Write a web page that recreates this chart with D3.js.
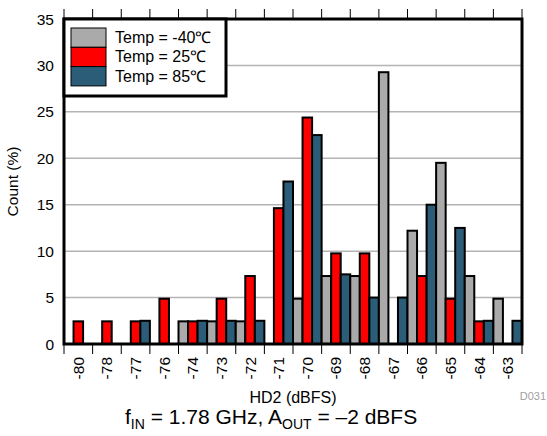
<!DOCTYPE html>
<html>
<head>
<meta charset="utf-8">
<script src="https://cdn.jsdelivr.net/npm/d3@7"></script>
<style>
  body { margin: 0; background: #fff; }
  text { font-family: "Liberation Sans", Arial, sans-serif; fill: #000; }
</style>
</head>
<body>
<div class="chart_area"></div>
<script>
// HD2 bins (dBFS)
var categories = ["-80","-78","-77","-76","-74","-73","-72","-71","-70","-69","-68","-67","-66","-65","-64","-63"];
var series_names = ["Temp = -40\u2103", "Temp = 25\u2103", "Temp = 85\u2103"];
var temp_m40 = [0, 0, 0, 0, 2.44, 2.44, 2.44, 0, 4.88, 7.32, 7.32, 29.27, 12.2, 19.51, 7.32, 4.88];
var temp_25  = [2.44, 2.44, 2.44, 4.88, 2.44, 4.88, 7.32, 14.63, 24.39, 9.76, 9.76, 0, 7.32, 4.88, 2.44, 0];
var temp_85  = [0, 0, 2.5, 0, 2.5, 2.5, 2.5, 17.5, 22.5, 7.5, 5, 5, 15, 12.5, 2.5, 2.5];
var y_ticks = [0, 5, 10, 15, 20, 25, 30, 35];
var colors = ["#aaaaaa", "#ff0000", "#2c5d78"];

var margin = { top: 19, right: 25, bottom: 92, left: 64 },
    width = 547 - margin.left - margin.right,
    height = 436 - margin.top - margin.bottom;

var svg = d3.select(".chart_area")
    .append("svg")
    .attr("width", 547)
    .attr("height", 436)
    .append("g")
    .attr("transform", "translate(" + margin.left + "," + margin.top + ")");

var x = d3.scaleBand().domain(categories).range([0, width]).padding(0);
var xs = d3.scaleBand().domain([0, 1, 2]).range([0, x.bandwidth()]).padding(0);
var y = d3.scaleLinear().domain([0, 35]).range([height, 0]);

// gridlines
svg.append("g")
    .selectAll("line")
    .data(y_ticks.filter(function(d){ return d > 0 && d < 35; }))
    .enter()
    .append("line")
    .attr("x1", 0).attr("x2", width)
    .attr("y1", function(d){ return y(d); })
    .attr("y2", function(d){ return y(d); })
    .style("stroke", "#b4b4b4")
    .style("stroke-width", 1.5);

// bars
var rows = categories.map(function(c, i){ return { cat: c, vals: [temp_m40[i], temp_25[i], temp_85[i]] }; });

svg.append("g")
    .selectAll("g")
    .data(rows)
    .enter()
    .append("g")
    .attr("transform", function(d){ return "translate(" + x(d.cat) + ",0)"; })
    .selectAll("rect")
    .data(function(d){ return d.vals.map(function(v, k){ return { k: k, v: v }; }); })
    .enter()
    .filter(function(d){ return d.v > 0; })
    .append("rect")
    .attr("x", function(d){ return xs(d.k); })
    .attr("width", xs.bandwidth())
    .attr("y", function(d){ return y(d.v); })
    .attr("height", function(d){ return y(0) - y(d.v); })
    .attr("fill", function(d){ return colors[d.k]; })
    .style("stroke", "#000")
    .style("stroke-width", 2);

// frame
svg.append("rect")
    .attr("x", 0).attr("y", 0)
    .attr("width", width).attr("height", height)
    .attr("fill", "none")
    .style("stroke", "#000")
    .style("stroke-width", 3);

// category boundary ticks, top and bottom
var bounds = categories.map(function(c){ return x(c); }).concat([width]);
svg.append("g").selectAll("line").data(bounds).enter().append("line")
    .attr("x1", function(d){ return d; }).attr("x2", function(d){ return d; })
    .attr("y1", -10).attr("y2", 0)
    .style("stroke", "#000").style("stroke-width", 1);
svg.append("g").selectAll("line").data(bounds).enter().append("line")
    .attr("x1", function(d){ return d; }).attr("x2", function(d){ return d; })
    .attr("y1", height).attr("y2", height + 10)
    .style("stroke", "#000").style("stroke-width", 1);

// x tick labels
svg.append("g").selectAll("text").data(categories).enter().append("text")
    .attr("transform", function(d){ return "translate(" + (x(d) + x.bandwidth() / 2 + 5.5) + "," + (height + 13) + ") rotate(-90)"; })
    .attr("text-anchor", "end")
    .style("font-size", "15.5px")
    .text(function(d){ return d; });

// y tick labels
svg.append("g").selectAll("text").data(y_ticks).enter().append("text")
    .attr("x", -10)
    .attr("y", function(d){ return y(d) + 5.5; })
    .attr("text-anchor", "end")
    .style("font-size", "15.5px")
    .text(function(d){ return d; });

// axis titles
svg.append("text")
    .attr("transform", "translate(-46," + (height / 2) + ") rotate(-90)")
    .attr("text-anchor", "middle")
    .style("font-size", "15.5px")
    .text("Count (%)");

svg.append("text")
    .attr("x", width / 2)
    .attr("y", 384)
    .attr("text-anchor", "middle")
    .style("font-size", "16px")
    .text("HD2 (dBFS)");

svg.append("text")
    .attr("x", width + 24)
    .attr("y", 381)
    .attr("text-anchor", "end")
    .style("font-size", "11px")
    .style("fill", "#a0a0a0")
    .text("D031");

// subtitle
var sub = svg.append("text")
    .attr("x", 61)
    .attr("y", 405)
    .attr("text-anchor", "start")
    .style("font-size", "21px");
sub.append("tspan").text("f");
sub.append("tspan").attr("dy", 5).style("font-size", "14px").text("IN");
sub.append("tspan").attr("dy", -5).text(" = 1.78 GHz, A");
sub.append("tspan").attr("dy", 5).style("font-size", "14px").text("OUT");
sub.append("tspan").attr("dy", -5).text(" = \u20132 dBFS");

// legend
var legend = svg.append("g");
legend.append("rect")
    .attr("x", 0).attr("y", 0)
    .attr("width", 162).attr("height", 77)
    .attr("fill", "#fff")
    .style("stroke", "#000")
    .style("stroke-width", 3);
var li = legend.selectAll("g").data(series_names).enter().append("g")
    .attr("transform", function(d, i){ return "translate(7," + (9 + i * 19.3) + ")"; });
li.append("rect")
    .attr("width", 35).attr("height", 19.3)
    .attr("fill", function(d, i){ return colors[i]; })
    .style("stroke", "#000")
    .style("stroke-width", 1);
li.append("text")
    .attr("x", 44).attr("y", 15)
    .style("font-size", "16px")
    .text(function(d){ return d; });
</script>
</body>
</html>
